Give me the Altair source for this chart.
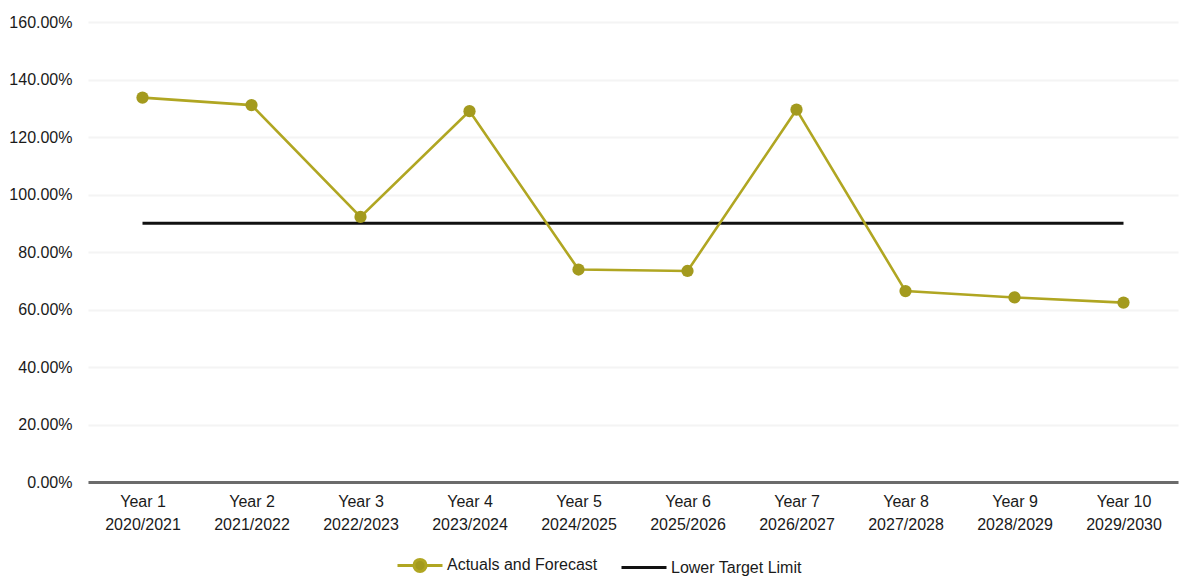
import altair as alt
import pandas as pd

# Chart values
years = ["Year 1", "Year 2", "Year 3", "Year 4", "Year 5",
         "Year 6", "Year 7", "Year 8", "Year 9", "Year 10"]
periods = ["2020/2021", "2021/2022", "2022/2023", "2023/2024", "2024/2025",
           "2025/2026", "2026/2027", "2027/2028", "2028/2029", "2029/2030"]
actuals = [1.337, 1.311, 0.922, 1.290, 0.739, 0.734, 1.295, 0.664, 0.642, 0.624]
target = [0.90] * 10

series_names = ["Actuals and Forecast", "Lower Target Limit"]
line_color = "#b0a622"
target_color = "#111111"
point_color = "#a39a1e"

FONT = "Liberation Sans, Arial, sans-serif"
FS = 16

cats = [f"{y}|{p}" for y, p in zip(years, periods)]

df = pd.DataFrame(
    {"cat": cats * 2,
     "value": actuals + target,
     "series": [series_names[0]] * 10 + [series_names[1]] * 10}
)

x_enc = alt.X(
    "cat:N",
    sort=cats,
    scale=alt.Scale(type="point", padding=0.5),
    axis=alt.Axis(
        title=None,
        labelExpr="split(datum.label, '|')",
        labelAngle=0,
        labelFont=FONT,
        labelFontSize=FS,
        labelLineHeight=23,
        labelColor="#1a1a1a",
        labelPadding=11,
        ticks=False,
        domainColor="#6b6b6b",
        domainWidth=3,
        grid=False,
    ),
)

y_enc = alt.Y(
    "value:Q",
    scale=alt.Scale(domain=[0, 1.6], nice=False),
    axis=alt.Axis(
        title=None,
        format=".2%",
        values=[0, 0.2, 0.4, 0.6, 0.8, 1.0, 1.2, 1.4, 1.6],
        labelFont=FONT,
        labelFontSize=FS,
        labelColor="#1a1a1a",
        labelPadding=16,
        ticks=False,
        domain=False,
        grid=True,
        gridColor="#f4f4f4",
        gridWidth=2,
    ),
)

base = alt.Chart(df)

target_line = (
    base.transform_filter(alt.datum.series == series_names[1])
    .mark_line(strokeWidth=2.8, color=target_color)
    .encode(x=x_enc, y=y_enc)
)

actual_line = (
    base.transform_filter(alt.datum.series == series_names[0])
    .mark_line(strokeWidth=2.6, color=line_color)
    .encode(x=x_enc, y=y_enc)
)

points = (
    base.transform_filter(alt.datum.series == series_names[0])
    .mark_point(filled=True, size=150, opacity=1, color=point_color)
    .encode(x=x_enc, y=y_enc)
)

# legend symbol: a short line with a filled circle for the actuals series,
# a plain stroke for the target series
line_dot = "M-1,0H-0.27A0.27,0.27 0 1,1 0.27,0A0.27,0.27 0 1,1 -0.27,0M0.27,0H1"


def series_legend():
    return alt.Legend(
        title=None,
        orient="none",
        direction="horizontal",
        legendX=308,
        legendY=519,
        labelFont=FONT,
        labelFontSize=FS,
        labelColor="#1a1a1a",
        labelOffset=3,
        labelLimit=300,
        columnPadding=17,
        symbolSize=2025,
        symbolStrokeWidth=3,
        symbolOpacity=1,
    )


legend_layer = (
    base.mark_point(opacity=0, size=2025, strokeWidth=3)
    .encode(
        x=x_enc,
        y=y_enc,
        fill=alt.Fill(
            "series:N",
            scale=alt.Scale(domain=series_names, range=[point_color, "transparent"]),
            legend=series_legend(),
        ),
        stroke=alt.Stroke(
            "series:N",
            scale=alt.Scale(domain=series_names, range=[line_color, target_color]),
            legend=series_legend(),
        ),
        shape=alt.Shape(
            "series:N",
            scale=alt.Scale(domain=series_names, range=[line_dot, "stroke"]),
            legend=series_legend(),
        ),
    )
)

chart = (
    alt.layer(target_line, actual_line, points, legend_layer)
    .properties(
        width=1090,
        height=460,
        autosize=alt.AutoSizeParams(type="none"),
        padding={"left": 88, "top": 22, "right": 1, "bottom": 94},
        background="white",
    )
    .configure_view(stroke=None)
)

chart.save("out.html", embed_options={"renderer": "svg", "actions": False})
